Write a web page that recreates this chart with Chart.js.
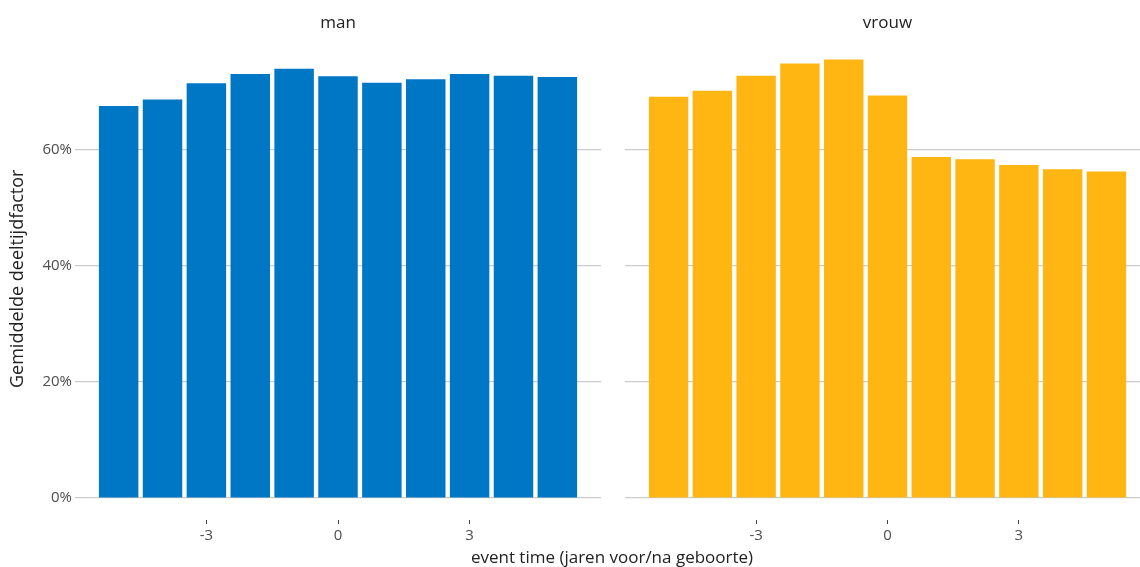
<!DOCTYPE html>
<html><head><meta charset="utf-8">
<script src="https://cdn.jsdelivr.net/npm/chart.js@4/dist/chart.umd.min.js"></script>
<style>
html,body{margin:0;padding:0;background:#fff;overflow:hidden;width:1140px;height:567px;position:relative}
#a{position:absolute;left:0;top:0}
#b{position:absolute;left:600px;top:0}
#xt{position:absolute;left:0;width:1224px;top:546px;line-height:22px;text-align:center;font-family:'Open Sans',sans-serif;font-size:17px;color:#222}
</style></head>
<body>
<canvas id="a" width="612" height="567"></canvas>
<canvas id="b" width="560" height="567"></canvas>
<div id="xt">event time (jaren voor/na geboorte)</div>
<script>
const categories = [-5, -4, -3, -2, -1, 0, 1, 2, 3, 4, 5];
const panelTitles = ['man', 'vrouw'];
const manValues = [67.6, 68.7, 71.5, 73.1, 74.0, 72.7, 71.6, 72.2, 73.1, 72.8, 72.6];
const vrouwValues = [69.2, 70.2, 72.8, 74.9, 75.6, 69.4, 58.8, 58.4, 57.4, 56.7, 56.3];
const xTickValues = [-3, 0, 3];
const yTickValues = [0, 20, 40, 60];
const yAxisTitle = 'Gemiddelde deeltijdfactor';

const FONT = "'Open Sans', sans-serif";
const allVals = manValues.concat(vrouwValues);
const yTop = Math.max(...allVals);
const yMin = -0.05 * yTop, yMax = yTop * 1.05;
const xLo = Math.min(...categories) - 0.45, xHi = Math.max(...categories) + 0.45;
const xPad = 0.05 * (xHi - xLo);

function makeChart(id, title, values, color, first, yWidth, padRight) {
  return new Chart(document.getElementById(id), {
    type: 'bar',
    data: {
      datasets: [{
        data: categories.map((c, i) => ({ x: c, y: values[i] })),
        backgroundColor: color,
        borderWidth: 0,
        barPercentage: 0.9,
        categoryPercentage: 1.0
      }]
    },
    options: {
      responsive: false,
      animation: false,
      devicePixelRatio: 1,
      layout: { padding: { left: 0, right: padRight, top: 0, bottom: 0 } },
      plugins: {
        legend: { display: false },
        tooltip: { enabled: false },
        title: {
          display: true, text: title, fullSize: false, color: '#222',
          font: { family: FONT, size: 17, weight: 'normal', lineHeight: 1.2 },
          padding: { top: 12.5, bottom: 4.7 }
        }
      },
      scales: {
        x: {
          type: 'linear', offset: false, min: xLo - xPad, max: xHi + xPad,
          afterBuildTicks: s => { s.ticks = xTickValues.map(v => ({ value: v })); },
          afterFit: s => { s.height = 47; },
          grid: { offset: false, drawOnChartArea: false, drawTicks: true, tickLength: 4, color: '#444', lineWidth: 1 },
          border: { display: false },
          ticks: { padding: 3, color: '#4d4d4d', maxRotation: 0, autoSkip: false,
                   font: { family: FONT, size: 15 }, callback: v => String(v) }
        },
        y: {
          min: yMin, max: yMax,
          afterBuildTicks: s => { s.ticks = yTickValues.map(v => ({ value: v })); },
          afterFit: s => { s.width = yWidth; },
          grid: { color: '#cccccc', lineWidth: 1.2, drawTicks: false },
          border: { display: false },
          ticks: { display: first, padding: 3, color: '#4d4d4d',
                   font: { family: FONT, size: 15 }, callback: v => v + '%' },
          title: { display: first, text: yAxisTitle, color: '#222',
                   font: { family: FONT, size: 18 }, padding: { top: 7, bottom: 0 } }
        }
      }
    }
  });
}
makeChart('a', panelTitles[0], manValues, '#0077c4', true, 75, 11);
makeChart('b', panelTitles[1], vrouwValues, '#ffb612', false, 25, 10);
</script>
</body></html>
